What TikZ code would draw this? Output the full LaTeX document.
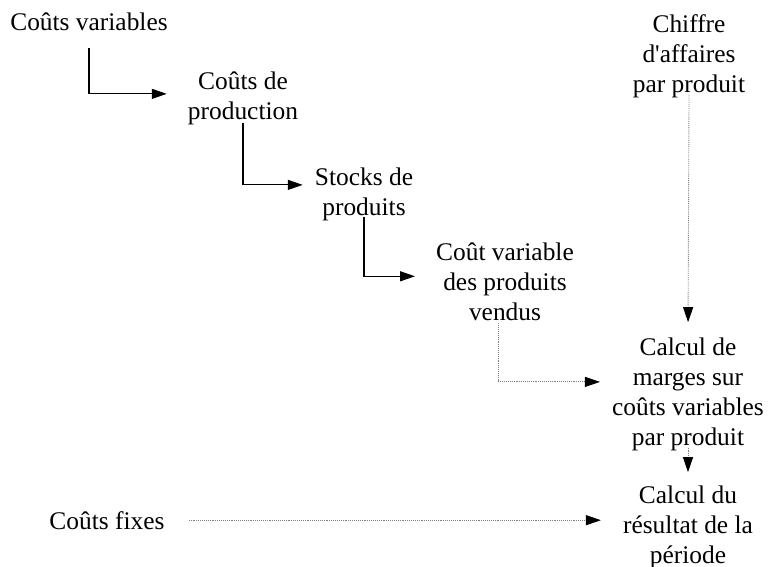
\documentclass[tikz,border=0pt]{standalone}
\usepackage{fontspec}
\setmainfont{Liberation Serif}
\usetikzlibrary{arrows.meta}

\begin{document}
\begin{tikzpicture}[x=1pt, y=-1pt,
    every node/.style={font=\fontsize{25.4}{30}\selectfont, align=center, inner xsep=6pt, inner ysep=0pt, anchor=base},
    plain/.style={draw=black, line width=1.2pt, -{Triangle[length=15pt, width=10pt]}},
    dots/.style={draw=gray, line width=0.9pt, densely dotted, -{Triangle[black, length=15pt, width=10pt]}}]
    \useasboundingbox (0,0) rectangle (771,567);

    \node (cv) at (89,31) {Coûts variables};
    \node (prod) at (243,120) {Coûts de\\production};
    \node (stock) at (364,215) {Stocks de\\produits};
    \node (cvpv) at (505,320) {Coût variable\\des produits\\vendus};
    \node (ca) at (689,93) {Chiffre\\d\textquotesingle{}affaires\\par produit};
    \node (marges) at (688,445) {Calcul de\\marges sur\\coûts variables\\par produit};
    \node (cf) at (107,529) {Coûts fixes};
    \node (res) at (688,563) {Calcul du\\résultat de la\\période};

    \draw[plain, shorten <=17pt, shorten >=15pt] (cv.south) |- ([yshift=5pt]prod.west);
    \draw[plain, shorten <=-3pt, shorten >=6pt] (prod.south) |- ([yshift=9pt]stock.west);
    \draw[plain, shorten <=-4pt, shorten >=15pt] (stock.south) |- ([yshift=5pt]cvpv.west);
    \draw[dots, shorten <=3pt, shorten >=6pt] ([xshift=-7pt]cvpv.south) |- ([yshift=12pt]marges.west);
    \draw[dots, shorten <=-4pt, shorten >=15pt] (ca.south) -- (marges.north);
    \draw[dots, shorten <=-3pt, shorten >=13pt] (marges.south) -- (res.north);
    \draw[dots, shorten <=18pt, shorten >=16pt] (cf.east) -- (cf.east -| res.west);
\end{tikzpicture}
\end{document}
